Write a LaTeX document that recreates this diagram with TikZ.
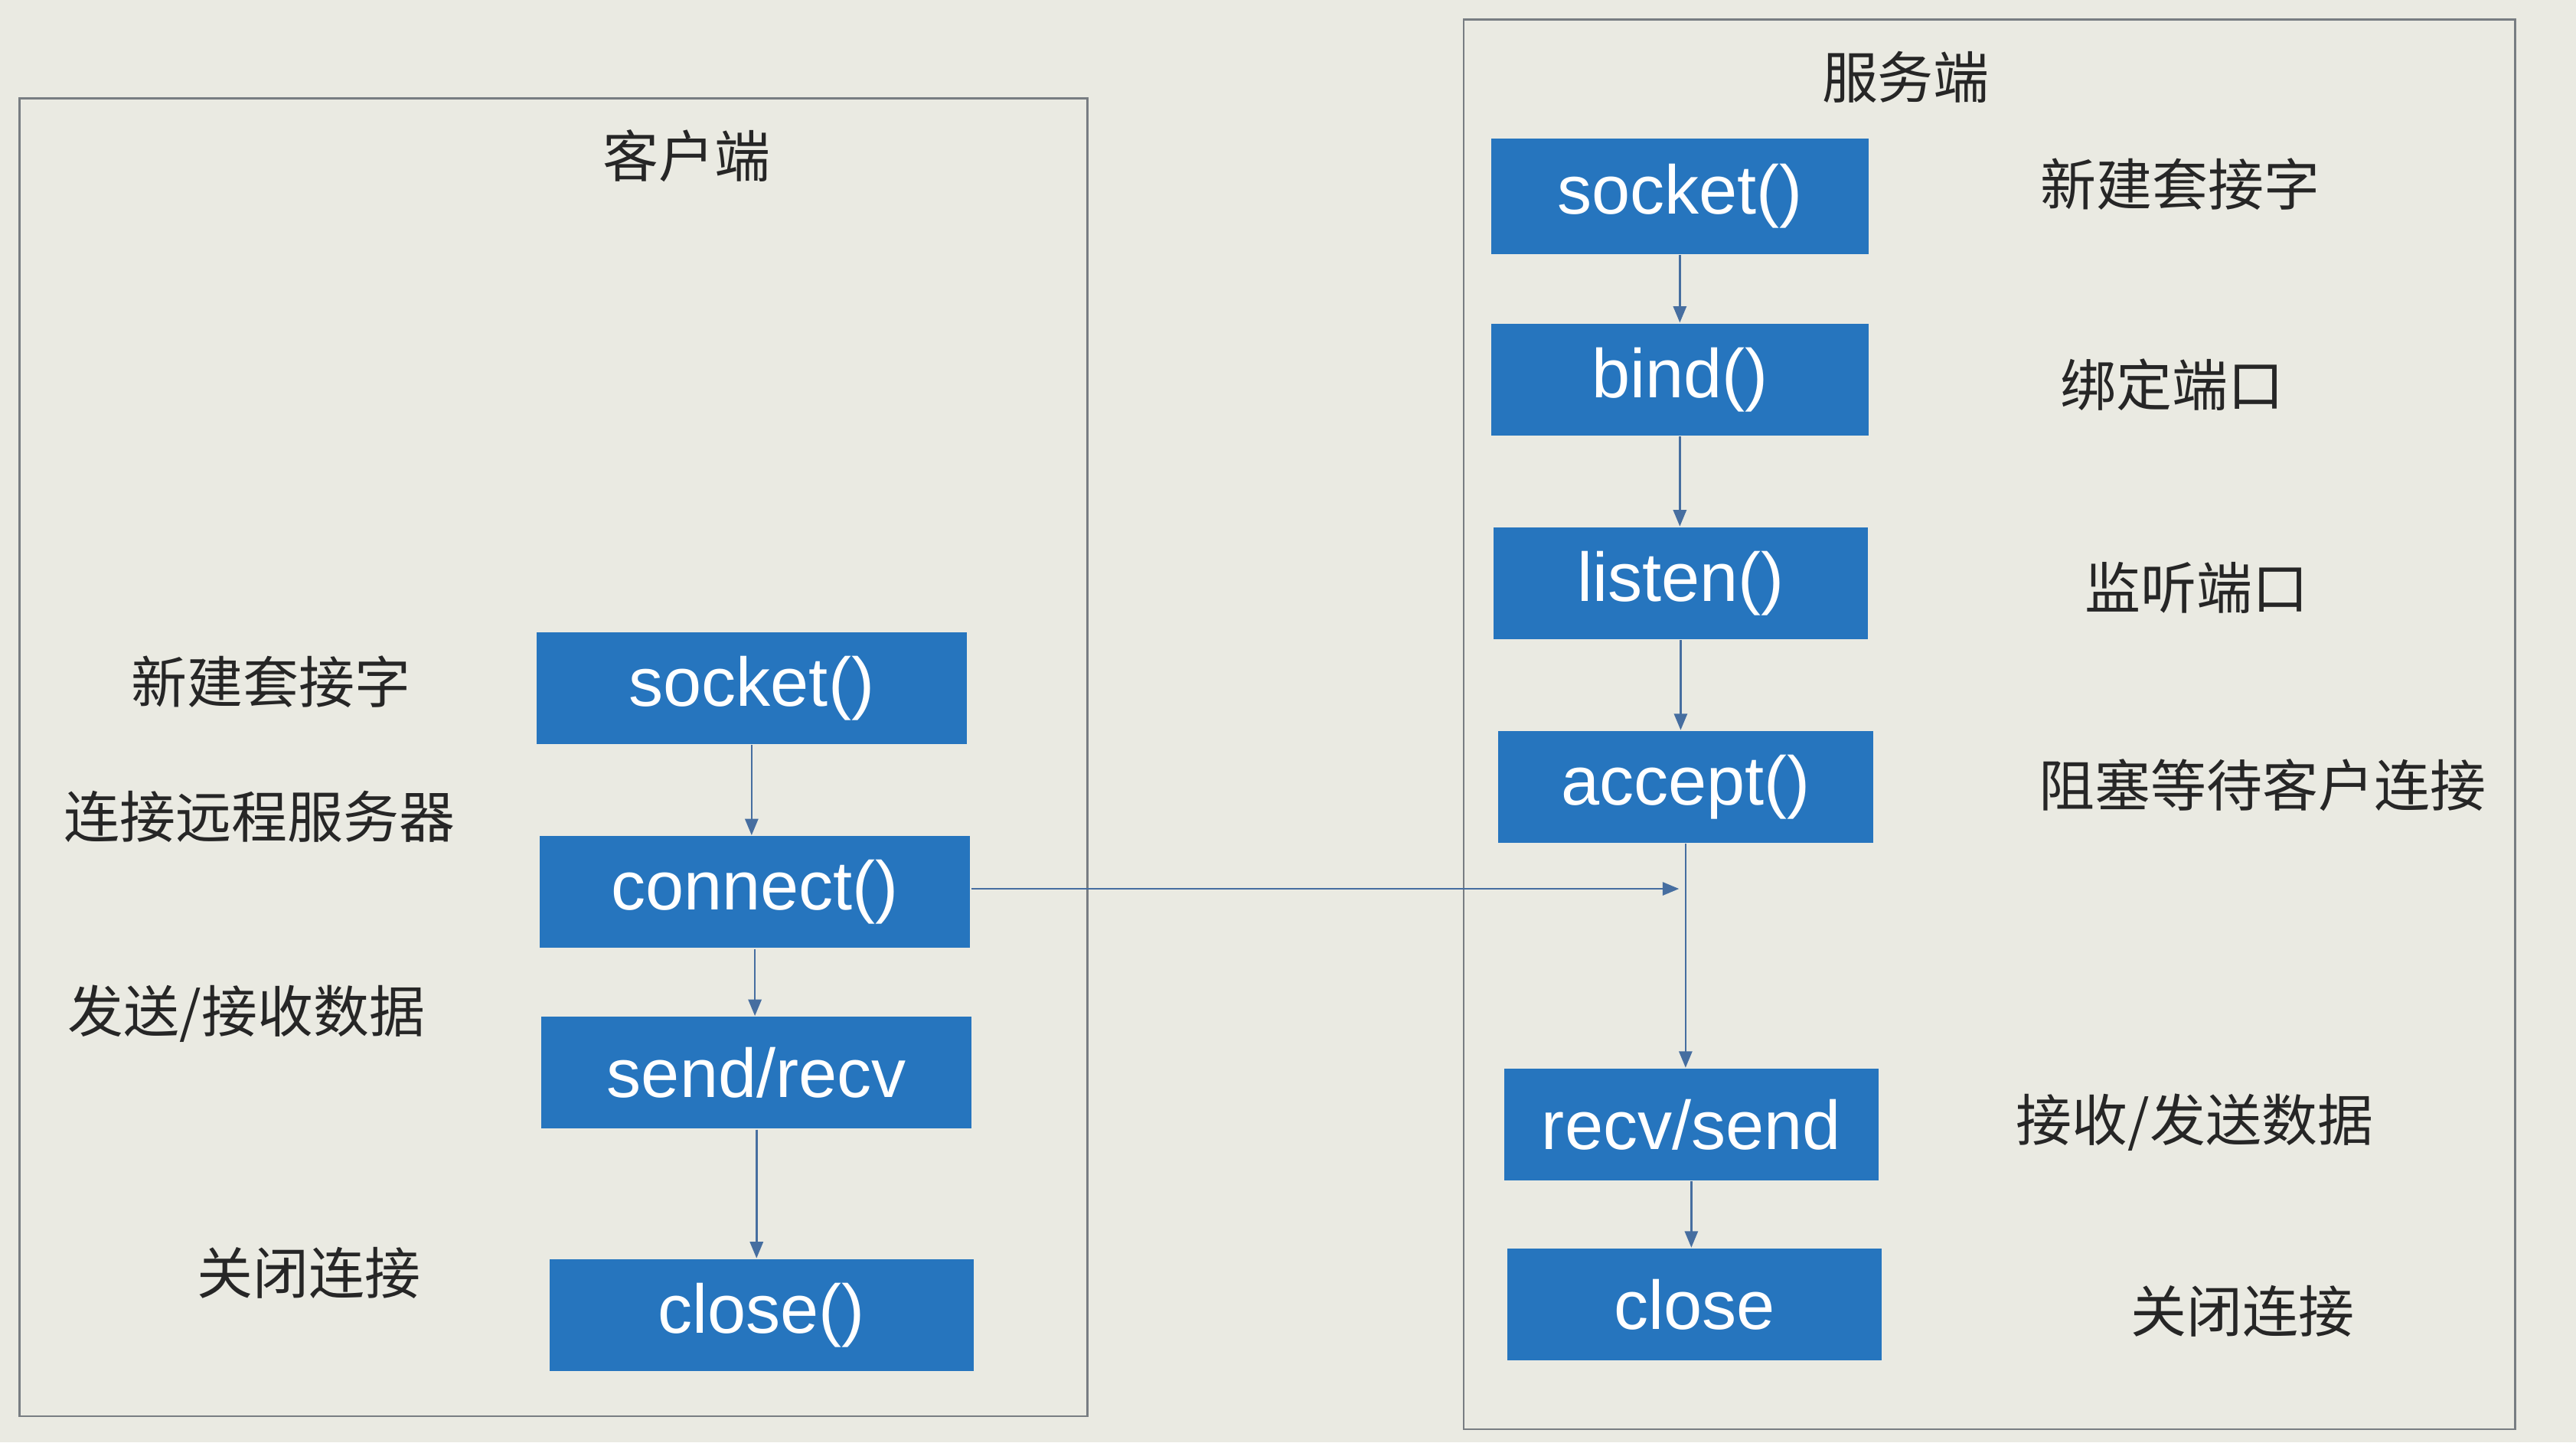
\documentclass[tikz,border=0pt]{standalone}
\usepackage{fontspec}
\setmainfont{Liberation Sans}
\newfontfamily\cjk{Noto Sans CJK SC}
\usetikzlibrary{arrows.meta}
\definecolor{boxblue}{RGB}{38,117,190}
\definecolor{paper}{RGB}{234,234,226}
\definecolor{frameline}{RGB}{120,125,130}
\definecolor{arrowline}{RGB}{70,110,160}
\tikzset{every picture/.style={line width=0.6pt}}
\tikzset{
  callbox/.style={fill=boxblue,text=white,font=\fontsize{21}{24}\selectfont,inner sep=0pt},
  note/.style={font=\cjk\fontsize{17}{20}\selectfont,text=black!85},
  flow/.style={draw=arrowline,-{Triangle[length=5pt,width=4pt]}}
}
\begin{document}
\begin{tikzpicture}[x=0.5pt,y=0.5pt,yscale=-1,xscale=1]
%background
\fill[paper] (0,0) rectangle (1568,878);
\useasboundingbox (0,0) rectangle (1568,878);

%frames
\draw[frameline] (12,60) rectangle (662,862);
\draw[frameline] (891,12) rectangle (1531,870);
\node[note] (clienttitle) at (418,95) {客户端};
\node[note] (servertitle) at (1160,47) {服务端};

%client boxes
\node[callbox,minimum width=131pt,minimum height=34pt] (csocket) at (457.5,419) {socket()};
\node[callbox,minimum width=131pt,minimum height=34pt] (cconnect) at (459.5,543) {connect()};
\node[callbox,minimum width=131pt,minimum height=34pt] (csend) at (460.5,653) {send/recv};
\node[callbox,minimum width=129pt,minimum height=34pt] (cclose) at (463.5,800.5) {close()};

%client notes
\node[note] (cn1) at (165,415) {新建套接字};
\node[note] (cn2) at (158,497) {连接远程服务器};
\node[note] (cn3) at (150,617) {发送/接收数据};
\node[note] (cn4) at (188,775) {关闭连接};

%server boxes
\node[callbox,minimum width=115pt,minimum height=35pt] (ssocket) at (1022.5,119.5) {socket()};
\node[callbox,minimum width=115pt,minimum height=34pt] (sbind) at (1022.5,231) {bind()};
\node[callbox,minimum width=114pt,minimum height=34pt] (slisten) at (1023,355) {listen()};
\node[callbox,minimum width=114pt,minimum height=34pt] (saccept) at (1026,479) {accept()};
\node[callbox,minimum width=114pt,minimum height=34pt] (srecv) at (1029.5,684.5) {recv/send};
\node[callbox,minimum width=114pt,minimum height=34pt] (sclose) at (1031.5,794) {close};

%server notes
\node[note] (sn1) at (1327,112) {新建套接字};
\node[note] (sn2) at (1322,234) {绑定端口};
\node[note] (sn3) at (1337,358) {监听端口};
\node[note] (sn4) at (1377,478) {阻塞等待客户连接};
\node[note] (sn5) at (1336,683) {接收/发送数据};
\node[note] (sn6) at (1365,798) {关闭连接};

%client flow
\draw[flow] (csocket) -- (cconnect.north -| csocket);
\draw[flow] (cconnect) -- (csend.north -| cconnect);
\draw[flow] (csend) -- (cclose.north -| csend);

%server flow
\draw[flow] (ssocket) -- (sbind.north -| ssocket);
\draw[flow] (sbind) -- (slisten.north -| sbind);
\draw[flow] (slisten) -- (saccept.north -| slisten);
\draw[flow] (saccept) -- (srecv.north -| saccept);
\draw[flow] (srecv) -- (sclose.north -| srecv);

%connect request
\coordinate (reqend) at (1022,541);
\draw[flow] (cconnect.east |- reqend) -- (reqend);
\end{tikzpicture}
\end{document}
